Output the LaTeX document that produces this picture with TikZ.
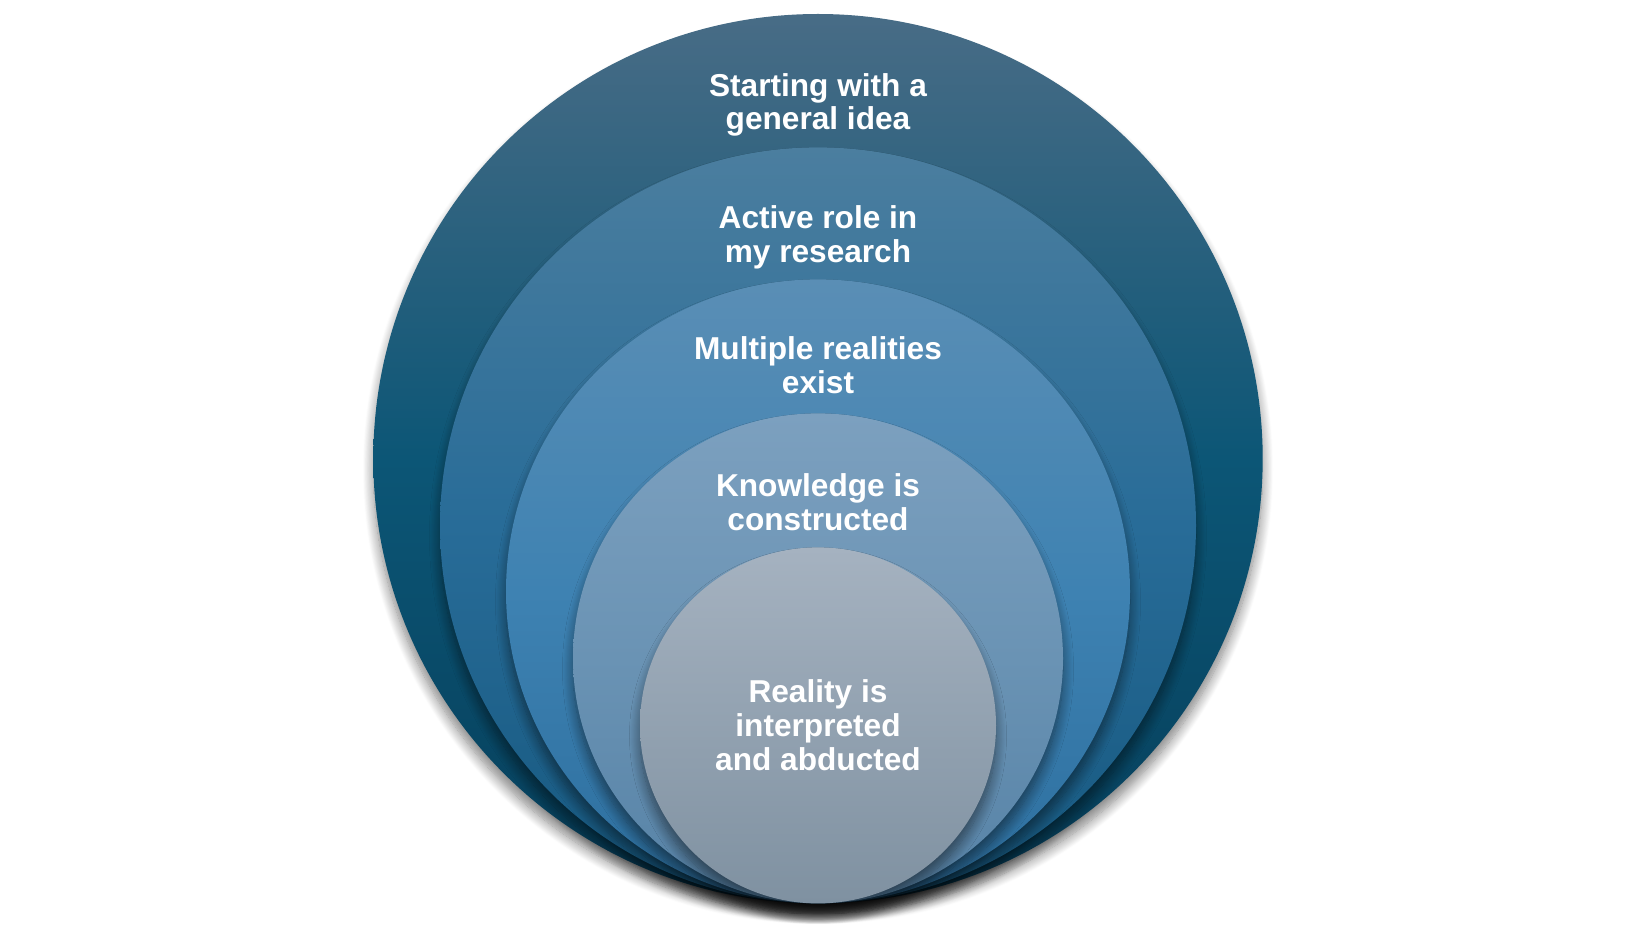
\documentclass[tikz,border=0pt]{standalone}
\usepackage{fontspec}
\setmainfont{Liberation Sans}
\usetikzlibrary{positioning,shadows.blur}
\definecolor{ringatop}{HTML}{486C86}
\definecolor{ringamid}{HTML}{0C5676}
\definecolor{ringabot}{HTML}{063E5A}
\definecolor{ringbtop}{HTML}{4B7E9F}
\definecolor{ringbmid}{HTML}{286C98}
\definecolor{ringbbot}{HTML}{16587F}
\definecolor{ringctop}{HTML}{5A8EB5}
\definecolor{ringcmid}{HTML}{3E82B2}
\definecolor{ringcbot}{HTML}{2C6E9E}
\definecolor{ringdtop}{HTML}{7CA0BF}
\definecolor{ringdmid}{HTML}{6A93B4}
\definecolor{ringdbot}{HTML}{5682A6}
\definecolor{ringetop}{HTML}{A5B2C0}
\definecolor{ringebot}{HTML}{7F91A1}
\tikzset{
  ring/.style args={#1,#2,#3,#4}{
  circle,
  inner sep=0pt,
  outer sep=0pt,
  minimum size=#1 cm,
  anchor=south,
  top color=#2,
  bottom color=#4,
  middle color=#3,
  blur shadow={shadow xshift=0pt,shadow yshift=-3pt,shadow blur radius=3pt,shadow blur steps=14,shadow opacity=50}
  },
  lbl/.style={text=white,align=center,font=\fontsize{9}{9.6}\selectfont\bfseries}
}
\begin{document}
\begin{tikzpicture}
  \useasboundingbox (0,0) rectangle (16.36,9.32);
  \coordinate (base) at (8.18,0.286);

  % nested circles, all touching at the bottom
  \node [ring={8.894,ringatop,ringamid,ringabot}] (c1) at (base) {};
  \node [ring={7.56,ringbtop,ringbmid,ringbbot}] (c2) at (c1.south) {};
  \node [ring={6.24,ringctop,ringcmid,ringcbot}] (c3) at (c1.south) {};
  \node [ring={4.90,ringdtop,ringdmid,ringdbot}] (c4) at (c1.south) {};
  \node [ring={3.56,ringetop,ringetop!50!ringebot,ringebot}] (c5) at (c1.south) {};

  \node [lbl] (t1) at ([yshift=-0.91cm]c1.north) {Starting with a\\general idea};
  \node [lbl] (t2) at ([yshift=-0.90cm]c2.north) {Active role in\\my research};
  \node [lbl] (t3) at ([yshift=-0.86cm]c3.north) {Multiple realities\\exist};
  \node [lbl] (t4) at ([yshift=-0.89cm]c4.north) {Knowledge is\\constructed};
  \node [lbl] (t5) at (c5.center) {Reality is\\interpreted\\and abducted};
\end{tikzpicture}
\end{document}
